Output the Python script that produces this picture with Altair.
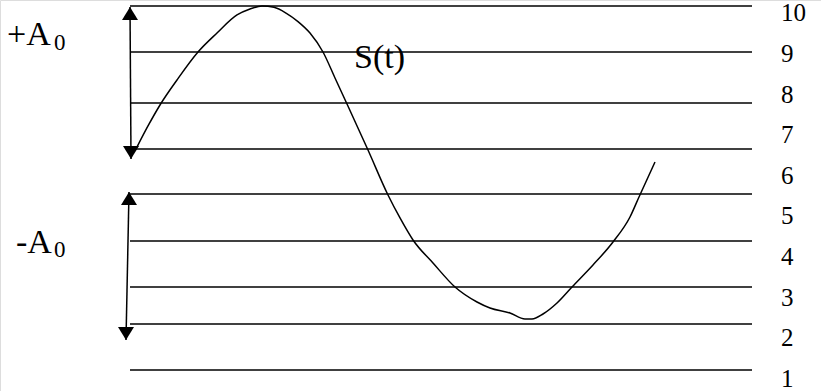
import altair as alt
import pandas as pd

# Reference levels (horizontal guide lines) and the right-hand level numbers
line_levels = [10.283, 9.150, 7.894, 6.761, 5.653, 4.495, 3.362, 2.451, 1.318]
level_labels = [1, 2, 3, 4, 5, 6, 7, 8, 9, 10]

# Signal S(t): time samples and amplitude values
t_values = [137, 148, 160, 177, 198, 217, 237, 250, 262, 274, 286, 298, 310, 323,
            335, 347, 368, 388, 400, 413, 433, 455, 477, 490, 510, 525, 532, 543,
            557, 572, 593, 613, 630, 639, 655]
s_values = [6.810, 7.328, 7.845, 8.461, 9.150, 9.618, 10.062, 10.209, 10.283,
            10.250, 10.110, 9.900, 9.618, 9.150, 8.510, 7.869, 6.736, 5.628,
            5.062, 4.520, 3.953, 3.362, 2.993, 2.845, 2.722, 2.574, 2.574,
            2.697, 2.968, 3.362, 3.904, 4.470, 5.086, 5.579, 6.441]

# Amplitude spans (+A0 and -A0) shown as double-headed arrows
arrow_names = ["+A0", "-A0"]
arrow_t_start = [130, 129]
arrow_t_end = [131, 126]
arrow_top = [10.259, 5.702]
arrow_bottom = [6.515, 2.057]

T_MIN, T_MAX = 0, 821
LINE_T0, LINE_T1 = 130, 752
FONT = "Liberation Serif"

xs = alt.Scale(domain=[T_MIN, T_MAX], nice=False, zero=False)
ys = alt.Scale(domain=[0.800, 10.431], nice=False, zero=False)

lines_df = pd.DataFrame({"level": line_levels,
                         "t0": [LINE_T0] * len(line_levels),
                         "t1": [LINE_T1] * len(line_levels)})
labels_df = pd.DataFrame({"level": level_labels,
                          "text": [str(v) for v in level_labels]})
signal_df = pd.DataFrame({"t": t_values, "s": s_values})
arrows_df = pd.DataFrame({"name": arrow_names, "t0": arrow_t_start,
                          "t1": arrow_t_end, "top": arrow_top,
                          "bottom": arrow_bottom})

guides = alt.Chart(lines_df).mark_rule(color="black", strokeWidth=1.5).encode(
    x=alt.X("t0:Q", scale=xs, axis=None),
    x2="t1:Q",
    y=alt.Y("level:Q", scale=ys, axis=None),
)

level_text = alt.Chart(labels_df).mark_text(
    align="left", baseline="alphabetic", dy=4, font=FONT, fontSize=25, color="black"
).encode(
    x=alt.value(781),
    y=alt.Y("level:Q", scale=ys, axis=None),
    text="text:N",
)

signal = alt.Chart(signal_df).mark_line(
    color="black", strokeWidth=1.5, interpolate="monotone"
).encode(
    x=alt.X("t:Q", scale=xs, axis=None),
    y=alt.Y("s:Q", scale=ys, axis=None),
)

shafts = alt.Chart(arrows_df).mark_rule(color="black", strokeWidth=1.5).encode(
    x=alt.X("t0:Q", scale=xs, axis=None),
    x2="t1:Q",
    y=alt.Y("top:Q", scale=ys, axis=None),
    y2="bottom:Q",
)

UP_HEAD = "M0,0L1.6,2.6L-1.6,2.6Z"
DOWN_HEAD = "M0,0L1.6,-2.6L-1.6,-2.6Z"

heads_up = alt.Chart(arrows_df).mark_point(
    shape=UP_HEAD, filled=True, color="black", size=100, opacity=1, strokeWidth=0
).encode(
    x=alt.X("t0:Q", scale=xs, axis=None),
    y=alt.Y("top:Q", scale=ys, axis=None),
)

heads_down = alt.Chart(arrows_df).mark_point(
    shape=DOWN_HEAD, filled=True, color="black", size=100, opacity=1, strokeWidth=0
).encode(
    x=alt.X("t1:Q", scale=xs, axis=None),
    y=alt.Y("bottom:Q", scale=ys, axis=None),
)


def label(text, t, level, size):
    return alt.Chart().mark_text(
        text=text, align="left", baseline="alphabetic", font=FONT,
        fontSize=size, color="black"
    ).encode(x=alt.datum(t, scale=xs), y=alt.datum(level, scale=ys))


annotations = [
    label("+A", 7, 9.323, 34),
    label("0", 54, 9.200, 23),
    label("-A", 16, 4.200, 34),
    label("0", 54, 4.101, 23),
    label("S(t)", 354, 8.756, 34),
]

chart = alt.layer(
    guides, level_text, signal, shafts, heads_up, heads_down, *annotations
).properties(
    width=821, height=391, padding=0, autosize=alt.AutoSizeParams(type="none")
).configure_view(stroke=None).configure(background="white")

chart.save("out.html", embed_options={"renderer": "svg", "actions": False})
